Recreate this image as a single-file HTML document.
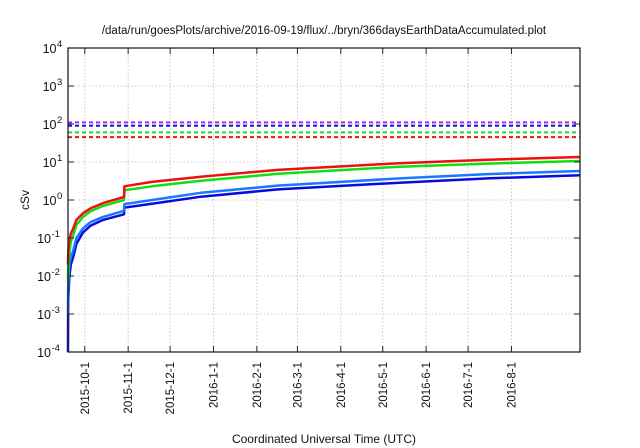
<!DOCTYPE html>
<html><head><meta charset="utf-8"><style>
body{margin:0;background:#fff}
svg{display:block;font-family:"Liberation Sans",sans-serif}
</style></head><body>
<svg id="chart" width="640" height="448" viewBox="0 0 640 448" xmlns="http://www.w3.org/2000/svg">
<text x="324" y="34" font-size="11.5" text-anchor="middle" fill="#111">/data/run/goesPlots/archive/2016-09-19/flux/../bryn/366daysEarthDataAccumulated.plot</text>
<text x="0" y="0" font-size="12" text-anchor="middle" fill="#111" transform="translate(29,200) rotate(-90)">cSv</text>
<text x="324" y="443" font-size="12" text-anchor="middle" fill="#111">Coordinated Universal Time (UTC)</text>
<g id="grid"></g><g id="marks"></g><g id="axes"></g>
</svg>
<script>
const xTickDays=[12,43,73,104,135,164,195,225,256,286,317];
const xTickLabels=["2015-10-1","2015-11-1","2015-12-1","2016-1-1","2016-2-1","2016-3-1","2016-4-1","2016-5-1","2016-6-1","2016-7-1","2016-8-1"];
const yTickExps=[-4,-3,-2,-1,0,1,2,3,4];
const days=[0,0.1,0.3,1,2,3.8,6,10.7,16,25,40,40.3,60,95,150,237,300,366];
const redVals=[0.02,0.03,0.05,0.09,0.13,0.18,0.3,0.45,0.6,0.83,1.2,2.3,3.0,4.1,6.2,9.3,11.5,13.5];
const greenVals=[0.008,0.012,0.017,0.04,0.08,0.12,0.22,0.36,0.5,0.7,1.0,1.8,2.3,3.2,4.9,7.5,9.1,10.6];
const lightBlueVals=[0.001,0.004,0.008,0.02,0.03,0.048,0.1,0.18,0.26,0.36,0.52,0.78,1.0,1.55,2.4,3.7,4.8,5.8];
const blueVals=[0.0001,0.001,0.003,0.01,0.02,0.032,0.07,0.14,0.21,0.3,0.42,0.63,0.8,1.22,1.9,2.85,3.7,4.5];
const limitVals=[110,90,60,45];
const limitColors=["#a030f0","#1010e0","#10e010","#f01010"];
const L=68,R=580,T=48,B=352,D0=0,D1=366;
const X=d=>L+(d-D0)/(D1-D0)*(R-L);
const Y=v=>B-(Math.log10(v)+4)/8*(B-T);
const NS="http://www.w3.org/2000/svg";
function mk(tag,parent,attrs){const e=document.createElementNS(NS,tag);for(const k in attrs)e.setAttribute(k,attrs[k]);parent.appendChild(e);return e;}
const grid=document.getElementById('grid'),marks=document.getElementById('marks'),axes=document.getElementById('axes');
xTickDays.forEach((d,i)=>{
 const g=mk('line',grid,{x1:X(d),x2:X(d),y1:T,y2:B,stroke:'#bbb','stroke-width':0.8,'stroke-dasharray':'1.5 2'});
 
 const t1=mk('line',axes,{x1:X(d),x2:X(d),y1:B,y2:B-6,stroke:'#222','stroke-width':1});
 
 const t2=mk('line',axes,{x1:X(d),x2:X(d),y1:T,y2:T+6,stroke:'#222','stroke-width':1});
 
 const tx=mk('text',axes,{x:0,y:0,'font-size':11.5,'text-anchor':'end',fill:'#111',transform:`translate(${X(d)+4},362) rotate(-90)`});
 tx.textContent=xTickLabels[i];
 
});
yTickExps.forEach(e=>{
 const y=Y(Math.pow(10,e));
 if(e>-4&&e<4){const g=mk('line',grid,{x1:L,x2:R,y1:y,y2:y,stroke:'#bbb','stroke-width':0.8,'stroke-dasharray':'1.5 2'});
 }
 const t1=mk('line',axes,{x1:L,x2:L+6,y1:y,y2:y,stroke:'#222','stroke-width':1});
 
 const t2=mk('line',axes,{x1:R,x2:R-6,y1:y,y2:y,stroke:'#222','stroke-width':1});
 
 const supW=String(e).length*5.5;
 const base=mk('text',axes,{x:L-6-supW,y:y+5,'font-size':12.5,'text-anchor':'end',fill:'#111'});
 base.textContent='10';
 
 const sup=mk('text',axes,{x:L-6-supW+0.5,y:y-1,'font-size':9.5,'text-anchor':'start',fill:'#111'});
 sup.textContent=String(e);
 
});
limitVals.forEach((v,i)=>{
 const l=mk('line',marks,{x1:L,x2:R,y1:Y(v),y2:Y(v),stroke:limitColors[i],'stroke-width':2,'stroke-dasharray':'4 3'});
 
});
const series=[[blueVals,'#0a0ae0','blue-dose'],[lightBlueVals,'#1a78ff','lightblue-dose'],[greenVals,'#10e010','green-dose'],[redVals,'#ee1010','red-dose']];
series.forEach(([vals,c,n])=>{
 const p=mk('polyline',marks,{points:days.map((d,i)=>X(d).toFixed(1)+','+Y(vals[i]).toFixed(1)).join(' '),fill:'none',stroke:c,'stroke-width':2.5,'stroke-linejoin':'round'});
 
});
const fr=mk('rect',axes,{x:L,y:T,width:R-L,height:B-T,fill:'none',stroke:'#222','stroke-width':1.3});

</script>
</body></html>
